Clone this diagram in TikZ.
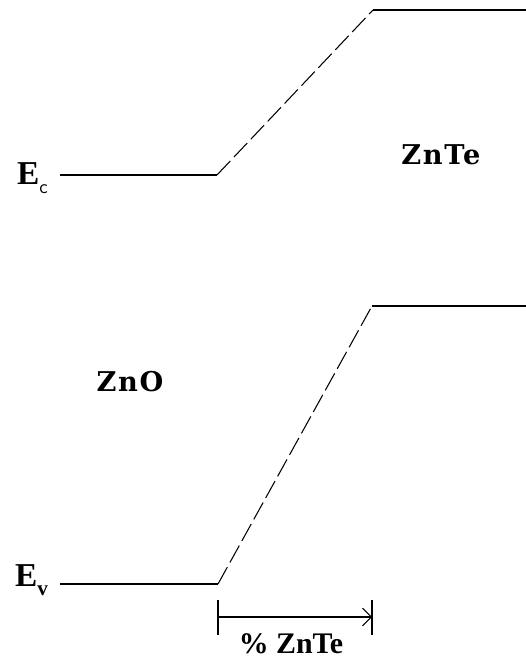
\documentclass[tikz,border=0pt]{standalone}
\usepackage{fontspec}
\setmainfont{Liberation Serif}
\newfontfamily\slabfont[LetterSpace=6]{DejaVu Serif}
\usetikzlibrary{arrows.meta}

\begin{document}
\begin{tikzpicture}[every node/.style={font=\fontsize{17}{20}\selectfont\bfseries},
	band/.style={line width=0.6pt},
	graded/.style={line width=0.6pt, dash pattern=on 11pt off 3pt},
	material/.style={font=\fontsize{15.5}{18}\selectfont\slabfont\bfseries}]
	\useasboundingbox (0,0) rectangle (10.52,13.3);
	% conduction band
	\coordinate (cl) at (1.2,9.8);
	\coordinate (ck) at (4.34,9.8);
	\coordinate (ct) at (7.46,13.1);
	\coordinate (cr) at (10.52,13.1);
	\draw[band] (cl) -- (ck);
	\draw[graded] (ck) -- (ct);
	\draw[band] (ct) -- (cr);
	\node[anchor=east, inner sep=1pt] (ec) at (1.0,9.74) {\fontsize{19}{22}\selectfont E\raisebox{-0.6ex}{\fontsize{11}{12}\selectfont\mdseries\sffamily c}};
	% valence band
	\coordinate (vl) at (1.2,1.62);
	\coordinate (vk) at (4.36,1.62);
	\coordinate (vt) at (7.44,7.18);
	\coordinate (vr) at (10.52,7.18);
	\draw[band] (vl) -- (vk);
	\draw[graded] (vk) -- (vt);
	\draw[band] (vt) -- (vr);
	\node[anchor=east, inner sep=1pt] (ev) at (1.0,1.7) {\fontsize{19}{22}\selectfont E\raisebox{-0.6ex}{\fontsize{12}{13}\selectfont v}};
	% materials
	\node[material] (znte) at (8.82,10.2) {ZnTe};
	\node[material] (zno) at (2.6,5.66) {ZnO};
	% width of graded region
	\coordinate (a) at (4.36,0.96);
	\coordinate (b) at (7.44,0.96);
	\draw[band] (4.36,1.3) -- (4.36,0.6);
	\draw[band] (7.44,1.3) -- (7.44,0.6);
	\draw[band, -{Straight Barb[length=5pt]}] (a) -- (b);
	\node (pct) at (5.82,0.42) {\% ZnTe};
\end{tikzpicture}
\end{document}
